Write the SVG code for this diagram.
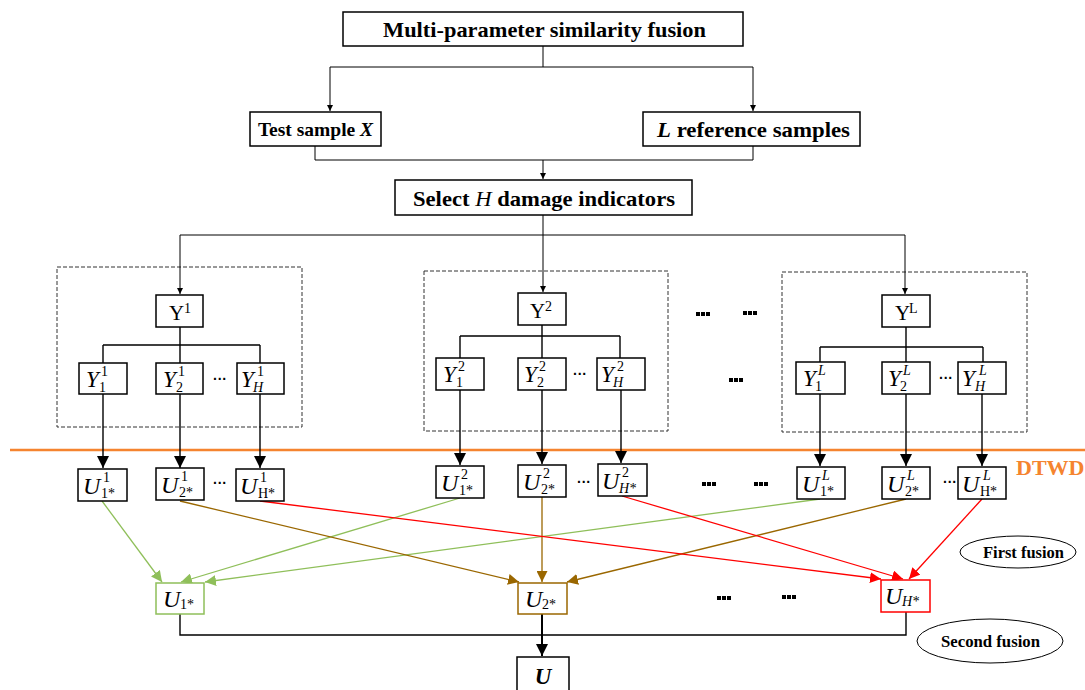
<svg xmlns="http://www.w3.org/2000/svg" width="1085" height="690" viewBox="0 0 1085 690">
<defs>
<style>
.box{fill:#fff;stroke:#000;stroke-width:1.5}
.dash{fill:none;stroke:#333;stroke-width:1;stroke-dasharray:4 2}
.ln{fill:none;stroke:#000;stroke-width:1}
.ln2{fill:none;stroke:#000;stroke-width:1.4}
.g{fill:none;stroke:#8fbf5a;stroke-width:1.3}
.b{fill:none;stroke:#9a6700;stroke-width:1.3}
.r{fill:none;stroke:#ff0000;stroke-width:1.3}
.tb{font-family:"Liberation Serif",serif;font-weight:bold;font-size:22px;fill:#000}
.it{font-family:"Liberation Serif",serif;font-style:italic;font-size:23px;fill:#000}
.iu{font-family:"Liberation Serif",serif;font-style:italic;font-size:24px;fill:#000}
.up{font-family:"Liberation Serif",serif;font-size:21px;fill:#000}
.sm{font-family:"Liberation Serif",serif;font-size:14px;fill:#000}
.smi{font-family:"Liberation Serif",serif;font-size:14px;font-style:italic;fill:#000}
.dots{font-family:"Liberation Sans",sans-serif;font-weight:bold;font-size:14px;fill:#000}
.bd{fill:#000}
</style>
<marker id="as" viewBox="0 0 10 10" refX="10" refY="5" markerWidth="6" markerHeight="6" markerUnits="userSpaceOnUse" orient="auto"><path d="M0,0 L10,5 L0,10 z" fill="#000"/></marker>
<marker id="ab" viewBox="0 0 10 10" refX="10" refY="5" markerWidth="12" markerHeight="12" markerUnits="userSpaceOnUse" orient="auto"><path d="M0,0 L10,5 L0,10 z" fill="#000"/></marker>
<marker id="ag" viewBox="0 0 10 10" refX="10" refY="5" markerWidth="11" markerHeight="11" markerUnits="userSpaceOnUse" orient="auto"><path d="M0,0 L10,5 L0,10 z" fill="#8fbf5a"/></marker>
<marker id="abr" viewBox="0 0 10 10" refX="10" refY="5" markerWidth="11" markerHeight="11" markerUnits="userSpaceOnUse" orient="auto"><path d="M0,0 L10,5 L0,10 z" fill="#9a6700"/></marker>
<marker id="ar" viewBox="0 0 10 10" refX="10" refY="5" markerWidth="11" markerHeight="11" markerUnits="userSpaceOnUse" orient="auto"><path d="M0,0 L10,5 L0,10 z" fill="#ff0000"/></marker>
</defs>
<rect width="1085" height="690" fill="#fff"/>

<g id="frames">
<rect class="dash" x="57" y="267" width="245" height="160"/>
<rect class="dash" x="424" y="271" width="244" height="160"/>
<rect class="dash" x="782" y="272" width="245" height="160"/>
<line x1="10" y1="450" x2="1085" y2="450" stroke="#f5842f" stroke-width="2.5"/>
<text x="1016" y="475" font-family="Liberation Serif,serif" font-weight="bold" font-size="22" fill="#f5842f">DTWD</text>
</g>

<g id="connectors">
<path class="ln" d="M543,46 V67 M330,67 H753"/>
<path class="ln" d="M330,67 V111" marker-end="url(#as)"/>
<path class="ln" d="M753,67 V111" marker-end="url(#as)"/>
<path class="ln" d="M315,146 V160 H753 M753,146 V160"/>
<path class="ln" d="M543,160 V179" marker-end="url(#as)"/>
<path class="ln" d="M543,215 V235 M180,235 H905"/>
<path class="ln" d="M180,235 V294" marker-end="url(#as)"/>
<path class="ln" d="M543,235 V292" marker-end="url(#as)"/>
<path class="ln" d="M905,235 V294" marker-end="url(#as)"/>
<path class="ln2" d="M180,327 V345 M103,345 H260 M103,345 V363 M180,345 V363 M260,345 V363"/>
<path class="ln2" d="M542,325 V336 M460,336 H620 M460,336 V358 M542,336 V358 M620,336 V358"/>
<path class="ln2" d="M906,327 V347 M820,347 H983 M820,347 V362 M906,347 V362 M983,347 V362"/>
<path class="ln2" d="M103,394 V468" marker-end="url(#ab)"/>
<path class="ln2" d="M180,394 V468" marker-end="url(#ab)"/>
<path class="ln2" d="M260,394 V468" marker-end="url(#ab)"/>
<path class="ln2" d="M460,390 V465" marker-end="url(#ab)"/>
<path class="ln2" d="M542,390 V464" marker-end="url(#ab)"/>
<path class="ln2" d="M621,390 V463" marker-end="url(#ab)"/>
<path class="ln2" d="M820,394 V466" marker-end="url(#ab)"/>
<path class="ln2" d="M906,394 V466" marker-end="url(#ab)"/>
<path class="ln2" d="M982,394 V466" marker-end="url(#ab)"/>
<path class="g" d="M102,501 L162,582" marker-end="url(#ag)"/>
<path class="g" d="M460,498 L181,582" marker-end="url(#ag)"/>
<path class="g" d="M820,499 L205,582" marker-end="url(#ag)"/>
<path class="b" d="M180,501 L519,582" marker-end="url(#abr)"/>
<path class="b" d="M542,497 L542,582" marker-end="url(#abr)"/>
<path class="b" d="M906,499 L567,582" marker-end="url(#abr)"/>
<path class="r" d="M260,501 L881,579" marker-end="url(#ar)"/>
<path class="r" d="M622,496 L903,579" marker-end="url(#ar)"/>
<path class="r" d="M982,499 L909,579" marker-end="url(#ar)"/>
<path class="ln2" d="M180,614 V635 H906 V612"/>
<path d="M542,614 V656" stroke="#000" stroke-width="2" fill="none" marker-end="url(#ab)"/>
</g>

<g id="n-top"><rect class="box" x="343" y="12" width="400" height="34"/><text class="tb" x="383" y="37" textLength="323" lengthAdjust="spacingAndGlyphs">Multi-parameter similarity fusion</text></g>
<g id="n-test"><rect class="box" x="250" y="112" width="131" height="34"/><text class="tb" x="315.5" y="136" text-anchor="middle" style="font-size:19.5px">Test sample <tspan font-style="italic">X</tspan></text></g>
<g id="n-ref"><rect class="box" x="643" y="112" width="217" height="34"/><text class="tb" x="657" y="137" textLength="193" lengthAdjust="spacingAndGlyphs"><tspan font-style="italic">L</tspan> reference samples</text></g>
<g id="n-select"><rect class="box" x="395" y="180" width="297" height="35"/><text class="tb" x="413" y="206" textLength="262" lengthAdjust="spacingAndGlyphs">Select <tspan font-style="italic" font-weight="normal">H</tspan> damage indicators</text></g>

<g id="n-Y1"><rect class="box" x="156" y="295" width="47" height="32"/><text class="up" x="169" y="320">Y</text><text class="sm" x="184" y="313">1</text></g>
<g id="n-Y11"><rect class="box" x="79" y="363" width="48" height="31"/><text class="it" x="86" y="387">Y</text><text class="sm" x="101" y="376">1</text><text class="sm" x="99" y="392">1</text></g>
<g id="n-Y21"><rect class="box" x="156" y="363" width="47" height="31"/><text class="it" x="163" y="387">Y</text><text class="sm" x="178" y="376">1</text><text class="sm" x="176" y="392">2</text></g>
<g id="n-YH1"><rect class="box" x="237" y="363" width="47" height="31"/><text class="it" x="241" y="387">Y</text><text class="sm" x="257" y="376">1</text><text class="smi" x="253" y="392">H</text></g>
<text class="dots" x="220" y="384" text-anchor="middle">···</text>

<g id="n-Y2"><rect class="box" x="518" y="293" width="48" height="32"/><text class="up" x="530" y="318">Y</text><text class="sm" x="545" y="311">2</text></g>
<g id="n-Y12"><rect class="box" x="436" y="358" width="48" height="32"/><text class="it" x="443" y="382">Y</text><text class="sm" x="458" y="371">2</text><text class="sm" x="456" y="387">1</text></g>
<g id="n-Y22"><rect class="box" x="518" y="358" width="48" height="32"/><text class="it" x="524" y="382">Y</text><text class="sm" x="539" y="371">2</text><text class="sm" x="537" y="387">2</text></g>
<g id="n-YH2"><rect class="box" x="597" y="358" width="48" height="32"/><text class="it" x="601" y="382">Y</text><text class="sm" x="617" y="371">2</text><text class="smi" x="613" y="387">H</text></g>
<text class="dots" x="580" y="379" text-anchor="middle">···</text>

<g id="n-YL"><rect class="box" x="882" y="295" width="48" height="32"/><text class="up" x="895" y="320">Y</text><text class="sm" x="909" y="313">L</text></g>
<g id="n-Y1L"><rect class="box" x="796" y="362" width="49" height="32"/><text class="it" x="803" y="386">Y</text><text class="smi" x="818" y="375">L</text><text class="sm" x="815" y="391">1</text></g>
<g id="n-Y2L"><rect class="box" x="882" y="362" width="48" height="32"/><text class="it" x="888" y="386">Y</text><text class="smi" x="903" y="375">L</text><text class="sm" x="900" y="391">2</text></g>
<g id="n-YHL"><rect class="box" x="958" y="362" width="48" height="32"/><text class="it" x="962" y="386">Y</text><text class="smi" x="979" y="375">L</text><text class="smi" x="975" y="391">H</text></g>
<text class="dots" x="946" y="383" text-anchor="middle">···</text>

<g id="bigdots">
<rect class="bd" x="696" y="312" width="4" height="4"/><rect class="bd" x="701" y="312" width="4" height="4"/><rect class="bd" x="706" y="312" width="4" height="4"/>
<rect class="bd" x="743" y="311" width="4" height="4"/><rect class="bd" x="748" y="311" width="4" height="4"/><rect class="bd" x="753" y="311" width="4" height="4"/>
<rect class="bd" x="729" y="378" width="4" height="4"/><rect class="bd" x="734" y="378" width="4" height="4"/><rect class="bd" x="739" y="378" width="4" height="4"/>
<rect class="bd" x="702" y="482" width="4" height="4"/><rect class="bd" x="707" y="482" width="4" height="4"/><rect class="bd" x="712" y="482" width="4" height="4"/>
<rect class="bd" x="754" y="482" width="4" height="4"/><rect class="bd" x="759" y="482" width="4" height="4"/><rect class="bd" x="764" y="482" width="4" height="4"/>
<rect class="bd" x="717" y="596" width="4" height="4"/><rect class="bd" x="722" y="596" width="4" height="4"/><rect class="bd" x="727" y="596" width="4" height="4"/>
<rect class="bd" x="782" y="595" width="4" height="4"/><rect class="bd" x="787" y="595" width="4" height="4"/><rect class="bd" x="792" y="595" width="4" height="4"/>
</g>

<g id="n-U11"><rect class="box" x="78" y="469" width="49" height="32"/><text class="iu" x="83" y="494">U</text><text class="sm" x="103" y="482">1</text><text class="sm" x="101" y="498">1*</text></g>
<g id="n-U21"><rect class="box" x="156" y="468" width="48" height="32"/><text class="iu" x="161" y="493">U</text><text class="sm" x="181" y="481">1</text><text class="sm" x="179" y="497">2*</text></g>
<g id="n-UH1"><rect class="box" x="236" y="469" width="48" height="32"/><text class="iu" x="240" y="494">U</text><text class="sm" x="260" y="482">1</text><text class="sm" x="258" y="498">H*</text></g>
<text class="dots" x="220" y="488" text-anchor="middle">···</text>

<g id="n-U12"><rect class="box" x="436" y="466" width="48" height="32"/><text class="iu" x="441" y="491">U</text><text class="sm" x="461" y="479">2</text><text class="sm" x="459" y="495">1*</text></g>
<g id="n-U22"><rect class="box" x="518" y="465" width="48" height="32"/><text class="iu" x="523" y="490">U</text><text class="sm" x="543" y="478">2</text><text class="sm" x="541" y="494">2*</text></g>
<g id="n-UH2"><rect class="box" x="598" y="464" width="49" height="32"/><text class="iu" x="602" y="489">U</text><text class="sm" x="622" y="477">2</text><text class="smi" x="619" y="493">H*</text></g>
<text class="dots" x="584" y="487" text-anchor="middle">···</text>

<g id="n-U1L"><rect class="box" x="797" y="467" width="48" height="32"/><text class="iu" x="802" y="492">U</text><text class="smi" x="822" y="480">L</text><text class="sm" x="820" y="496">1*</text></g>
<g id="n-U2L"><rect class="box" x="882" y="467" width="48" height="32"/><text class="iu" x="887" y="492">U</text><text class="smi" x="907" y="480">L</text><text class="sm" x="905" y="496">2*</text></g>
<g id="n-UHL"><rect class="box" x="958" y="467" width="48" height="32"/><text class="iu" x="962" y="492">U</text><text class="smi" x="983" y="480">L</text><text class="sm" x="980" y="496">H*</text></g>
<text class="dots" x="950" y="487" text-anchor="middle">···</text>

<g id="n-U1s"><rect x="156" y="583" width="48" height="31" fill="#fff" stroke="#8fbf5a" stroke-width="1.5"/><text class="iu" x="163" y="607">U</text><text class="sm" x="180" y="609">1*</text></g>
<g id="n-U2s"><rect x="518" y="583" width="49" height="31" fill="#fff" stroke="#9a6700" stroke-width="1.5"/><text class="iu" x="525" y="607">U</text><text class="sm" x="542" y="609">2*</text></g>
<g id="n-UHs"><rect x="881" y="580" width="49" height="32" fill="#fff" stroke="#ff0000" stroke-width="1.5"/><text class="iu" x="885" y="604">U</text><text class="smi" x="902" y="606">H*</text></g>

<g id="n-U"><rect class="box" x="517" y="657" width="52" height="40"/><text x="543" y="684" text-anchor="middle" font-family="Liberation Serif,serif" font-weight="bold" font-style="italic" font-size="23">U</text></g>

<g id="n-first"><ellipse cx="1018" cy="552" rx="58" ry="16" fill="none" stroke="#000" stroke-width="1"/><text x="983" y="558" font-family="Liberation Serif,serif" font-weight="bold" font-size="16" textLength="81" lengthAdjust="spacingAndGlyphs">First fusion</text></g>
<g id="n-second"><ellipse cx="990" cy="641" rx="73" ry="22" fill="none" stroke="#000" stroke-width="1"/><text x="941" y="647" font-family="Liberation Serif,serif" font-weight="bold" font-size="17" textLength="99" lengthAdjust="spacingAndGlyphs">Second fusion</text></g>
</svg>
